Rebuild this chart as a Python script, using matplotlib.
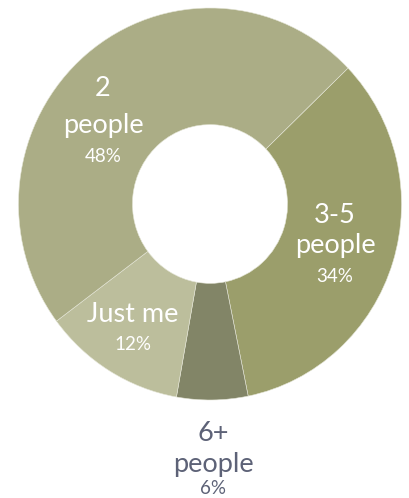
import matplotlib
matplotlib.use("Agg")
import matplotlib.pyplot as plt

categories = ["3-5 people", "6+ people", "Just me", "2 people"]
values = [34, 6, 12, 48]
colors = ["#9b9e6b", "#828567", "#bcbe9c", "#abad86"]

W, H = 409, 498
fig = plt.figure(figsize=(W / 100, H / 100), dpi=100)
cx, cy, rx, ry = 210, 204, 191.5, 196
ax = fig.add_axes([(cx - rx) / W, (H - cy - ry) / H, 2 * rx / W, 2 * ry / H])
ax.pie(values, colors=colors, startangle=43.9, counterclock=False, radius=1,
       wedgeprops=dict(width=0.595, edgecolor="#e4e5d6", linewidth=0.4))
ax.set_xlim(-1, 1)
ax.set_ylim(-1, 1)
ax.set_aspect("auto")
ax.axis("off")

font = "Lato"

def t(x, y, s, size, color):
    fig.text(x / W, 1 - y / H, s, ha="center", va="center", fontsize=size,
             color=color, family=font)

white = "white"
t(103, 89, "2", 19.5, white)
t(103, 125, "people", 19.5, white)
t(103, 156, "48%", 13.5, white)

t(335, 215, "3-5", 19.5, white)
t(335, 246, "people", 19.5, white)
t(335, 276, "34%", 13.5, white)

t(133, 314, "Just me", 19.5, white)
t(133, 345, "12%", 13.5, white)

gray = "#5d6277"
t(213, 433, "6+", 19.5, gray)
t(213, 464, "people", 19.5, gray)
t(213, 488, "6%", 13.5, gray)

fig.savefig("out.png", dpi=100)
